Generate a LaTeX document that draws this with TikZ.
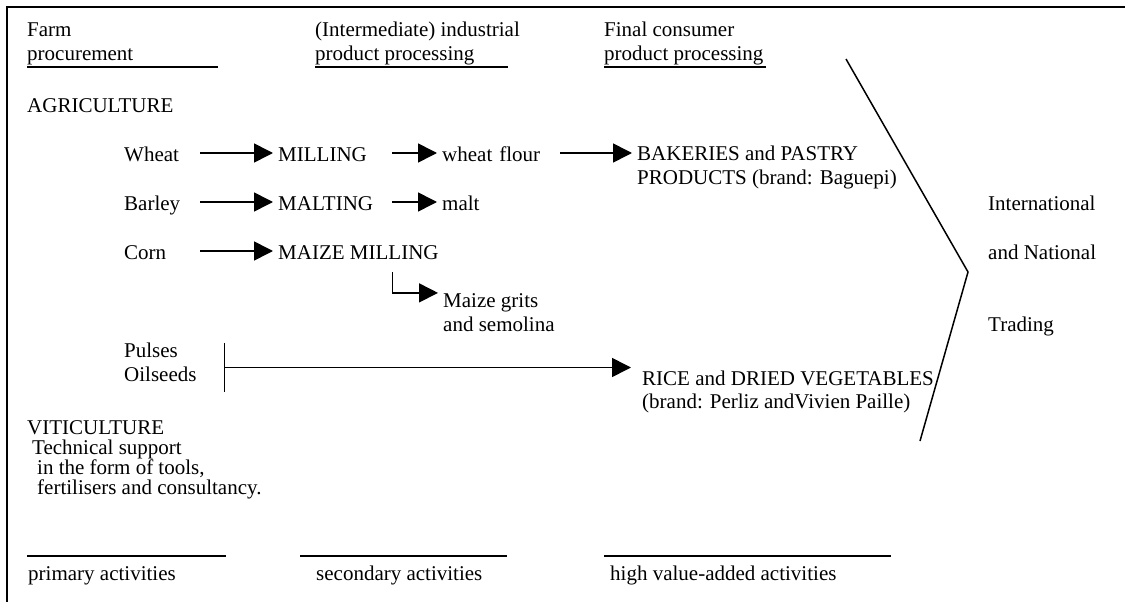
\documentclass[tikz,border=0pt]{standalone}
\usepackage{fontspec}
\setmainfont{Liberation Serif}
\usetikzlibrary{arrows.meta}
\tikzstyle{txt} = [inner sep=0pt, anchor=base west, align=left,
    font=\fontsize{21}{24}\selectfont]
\tikzstyle{item} = [txt, text height=16pt, text depth=0pt]
\tikzstyle{crop} = [item, text width=76pt]
\tikzstyle{proc} = [item, text width=114pt]
\tikzstyle{good} = [item, text width=118pt]
\tikzstyle{link} = [draw, line width=1.6pt, -{Triangle[length=19pt,width=19pt]}, shorten >=5pt]
\tikzstyle{rule} = [line width=1.2pt]

\begin{document}
\begin{tikzpicture}[x=1pt, y=-1pt]
	\useasboundingbox (0,0) rectangle (1125,602);
	\draw[line width=2pt] (1125,7) -- (7,7) -- (7,602);

	% column heads (base = last line)
	\node [txt, font=\fontsize{21}{24}\selectfont] (farm) at (27,60) {Farm\\procurement};
	\node [txt, font=\fontsize{21}{24}\selectfont] (ind) at (315,60) {(Intermediate) industrial\\product processing};
	\node [txt, font=\fontsize{21}{24}\selectfont] (final) at (604,60) {Final consumer\\product processing};
	\draw [rule] (27,67) -- (218,67);
	\draw [rule] (315,67) -- (508,67);
	\draw [rule] (604,67) -- (766,67);

	\node [txt] (agri) at (27,112) {AGRICULTURE};

	% cereals
	\node [crop] (wheat) at (124,161) {Wheat};
	\node [crop] (barley) at (124,210) {Barley};
	\node [crop] (corn) at (124,259) {Corn};
	\node [proc] (milling) at (278,161) {MILLING};
	\node [proc] (malting) at (278,210) {MALTING};
	\node [item] (maize) at (278,259) {MAIZE MILLING};
	\node [good] (flour) at (442,161) {wheat flour};
	\node [item] (malt) at (442,210) {malt};
	\node [txt] (bakery) at (637,184) {BAKERIES and PASTRY\\PRODUCTS (brand: Baguepi)};
	\node [txt] (grits) at (443,331) {Maize grits\\and semolina};

	% pulses
	\node [txt, text width=100pt, text height=14pt, text depth=35pt] (pulses) at (124,357) {Pulses\\Oilseeds};
	\node [txt, font=\fontsize{21}{23}\selectfont] (rice) at (642,408) {RICE and DRIED VEGETABLES\\(brand: Perliz andVivien Paille)};

	% trading
	\node [txt] (intl) at (988,210) {International};
	\node [txt] (natl) at (988,259) {and National};
	\node [txt] (trade) at (988,331) {Trading};
	\draw [line width=1.5pt] (846,59) -- (968,272) -- (920,441);

	\node [txt, font=\fontsize{21}{20}\selectfont] (viti) at (27,494) {VITICULTURE\\\hspace*{5pt}Technical support\\\hspace*{10pt}in the form of tools,\\\hspace*{10pt}fertilisers and consultancy.};

	% bottom scale
	\draw [rule] (27,556) -- (226,556);
	\draw [rule] (300,556) -- (507,556);
	\draw [rule] (604,556) -- (891,556);
	\node [txt] (prim) at (28,580) {primary activities};
	\node [txt] (sec) at (316,580) {secondary activities};
	\node [txt] (high) at (610,580) {high value-added activities};

	\path [link] (wheat.east) -- (milling.west);
	\path [link] (barley.east) -- (malting.west);
	\path [link] (corn.east) -- (maize.west);
	\path [link] (milling.east) -- (flour.west);
	\path [link] (malting.east) -- (malt.west);
	\path [link] (flour.east) -- (flour.east -| bakery.west);
	\path [link] ([yshift=-13pt]malting.east |- maize.south) |- (grits.north west);
	\draw [line width=1.6pt] (pulses.north east) -- (pulses.south east);
	\path [link, shorten >=11pt] (pulses.east) -- (pulses.east -| rice.west);
\end{tikzpicture}
\end{document}
